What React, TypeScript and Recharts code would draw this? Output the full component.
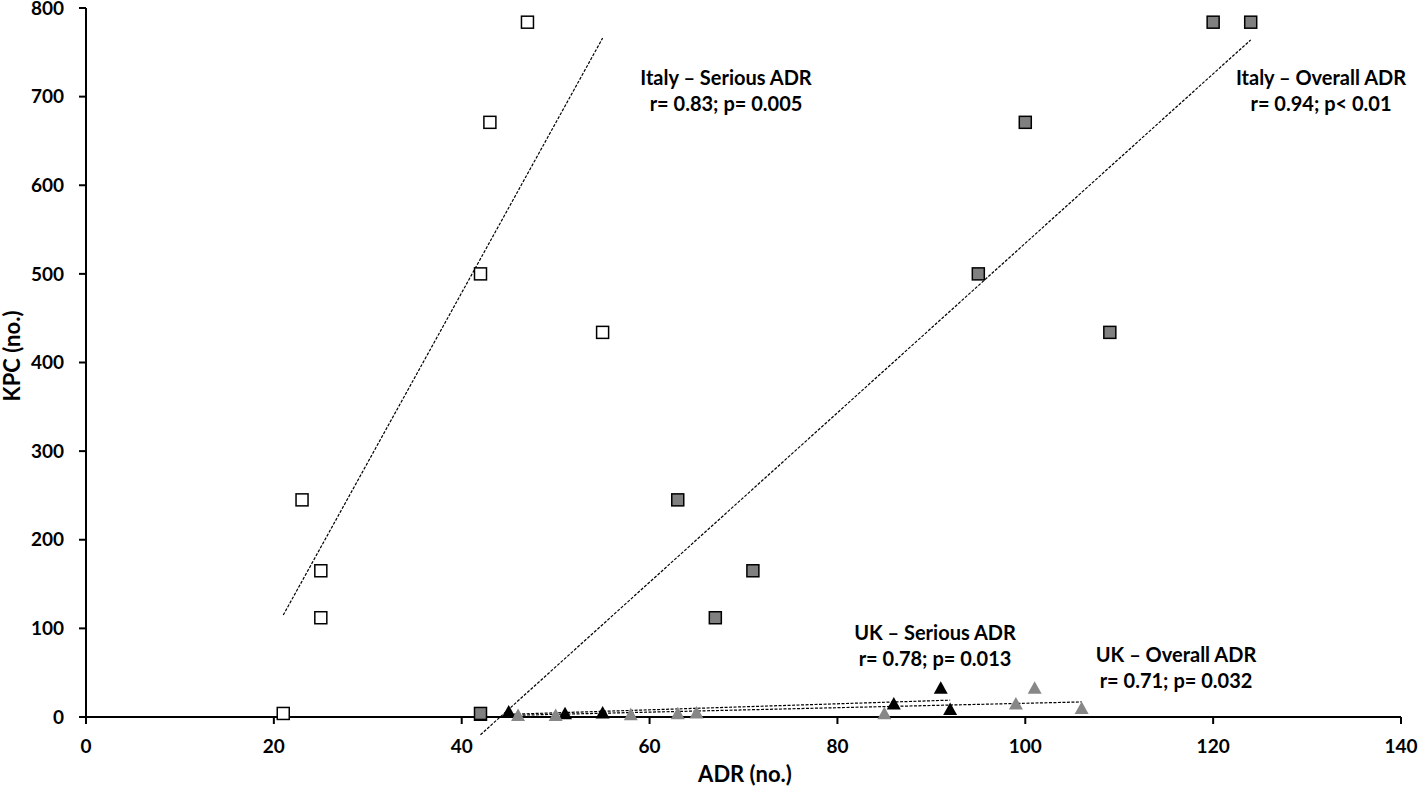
/**
 * KPC vs ADR scatter — Italy / UK, overall and serious ADR, with dashed trend lines
 */
import { ScatterChart, Scatter, XAxis, YAxis, ReferenceLine } from 'recharts';

// Italy – Serious ADR (white squares)
const italySeriousAdr = [21, 23, 25, 25, 42, 43, 47, 55];
const italySeriousKpc = [4, 245, 165, 112, 500, 671, 784, 434];

// Italy – Overall ADR (grey squares)
const italyOverallAdr = [42, 63, 67, 71, 95, 100, 109, 120, 124];
const italyOverallKpc = [4, 245, 112, 165, 500, 671, 434, 784, 784];

// UK – Serious ADR (black triangles)
const ukSeriousAdr = [42, 45, 51, 55, 86, 91, 92];
const ukSeriousKpc = [1, 5, 3, 4, 14, 32, 8];

// UK – Overall ADR (grey triangles)
const ukOverallAdr = [46, 50, 58, 63, 65, 85, 99, 101, 106];
const ukOverallKpc = [1, 1, 2, 3, 4, 3, 14, 32, 9];

// trend line end points [x1, y1, x2, y2]
const italySeriousTrend = [21, 115, 55, 766];
const italyOverallTrend = [42, -20, 124, 764];
const ukSeriousTrend = [45, 3, 92, 19];
const ukOverallTrend = [46, 2, 106, 17];

const xTicks = [0, 20, 40, 60, 80, 100, 120, 140];
const yTicks = [0, 100, 200, 300, 400, 500, 600, 700, 800];

const FONT = 'Lato, "Open Sans", sans-serif';

const toPoints = (xs: number[], ys: number[]) => xs.map((x, i) => ({ x, y: ys[i] }));
const toSegment = (t: number[]) => [
  { x: t[0], y: t[1] },
  { x: t[2], y: t[3] },
];

function SquareShape(fill: string) {
  return (props: any) => {
    const { cx, cy } = props;
    return <rect x={cx - 6} y={cy - 6} width={12} height={12} fill={fill} stroke="#000" strokeWidth={1.5} />;
  };
}

function TriangleShape(fill: string) {
  return (props: any) => {
    const { cx, cy } = props;
    return <polygon points={`${cx},${cy - 7.5} ${cx + 7},${cy + 5} ${cx - 7},${cy + 5}`} fill={fill} />;
  };
}

const labelStyle = (left: number, top: number): React.CSSProperties => ({
  position: 'absolute',
  left: left - 150,
  top,
  width: 300,
  textAlign: 'center',
  fontFamily: FONT,
  fontWeight: 700,
  fontSize: 20,
  lineHeight: '26px',
  color: '#000',
});

const titleStyle: React.CSSProperties = {
  position: 'absolute',
  width: 200,
  height: 28,
  textAlign: 'center',
  fontFamily: FONT,
  fontWeight: 700,
  fontSize: 22,
  lineHeight: '28px',
  color: '#000',
};

export default function App() {
  const tick = { fontSize: 19, fill: '#000', fontWeight: 700, fontFamily: FONT };
  const trendProps = { stroke: '#000', strokeWidth: 1.2, strokeDasharray: '3 1.5', ifOverflow: 'visible' as const };
  return (
    <div style={{ position: 'absolute', left: 0, top: 0, width: 1418, height: 794, background: '#fff' }}>
      <ScatterChart width={1418} height={794} margin={{ top: 8, right: 17, left: 0, bottom: 0 }}>
        <XAxis
          type="number"
          dataKey="x"
          domain={[0, 140]}
          ticks={xTicks}
          interval={0}
          height={77}
          axisLine={{ stroke: '#000', strokeWidth: 2 }}
          tickLine={{ stroke: '#000', strokeWidth: 2 }}
          tickSize={7}
          tickMargin={16}
          tick={tick}
        />
        <YAxis
          type="number"
          dataKey="y"
          domain={[0, 800]}
          ticks={yTicks}
          interval={0}
          width={86}
          axisLine={{ stroke: '#000', strokeWidth: 2 }}
          tickLine={{ stroke: '#000', strokeWidth: 2 }}
          tickSize={7}
          tickMargin={15}
          tick={tick}
        />
        <ReferenceLine segment={toSegment(italySeriousTrend)} {...trendProps} />
        <ReferenceLine segment={toSegment(italyOverallTrend)} {...trendProps} />
        <ReferenceLine segment={toSegment(ukSeriousTrend)} {...trendProps} />
        <ReferenceLine segment={toSegment(ukOverallTrend)} {...trendProps} />
        <Scatter data={toPoints(ukSeriousAdr, ukSeriousKpc)} shape={TriangleShape('#000')} isAnimationActive={false} />
        <Scatter data={toPoints(ukOverallAdr, ukOverallKpc)} shape={TriangleShape('#878787')} isAnimationActive={false} />
        <Scatter data={toPoints(italySeriousAdr, italySeriousKpc)} shape={SquareShape('#fff')} isAnimationActive={false} />
        <Scatter data={toPoints(italyOverallAdr, italyOverallKpc)} shape={SquareShape('#808080')} isAnimationActive={false} />
      </ScatterChart>

      <div style={labelStyle(726, 64)}>
        Italy – Serious ADR
        <br />
        r= 0.83; p= 0.005
      </div>
      <div style={labelStyle(1321, 64)}>
        Italy – Overall ADR
        <br />
        r= 0.94; p&lt; 0.01
      </div>
      <div style={labelStyle(935, 619)}>
        UK – Serious ADR
        <br />
        r= 0.78; p= 0.013
      </div>
      <div style={labelStyle(1176, 641)}>
        UK – Overall ADR
        <br />
        r= 0.71; p= 0.032
      </div>

      <div style={{ ...titleStyle, left: 645, top: 760 }}>ADR (no.)</div>
      <div style={{ ...titleStyle, left: 12 - 100, top: 356 - 14, transform: 'rotate(-90deg)' }}>KPC (no.)</div>
    </div>
  );
}
